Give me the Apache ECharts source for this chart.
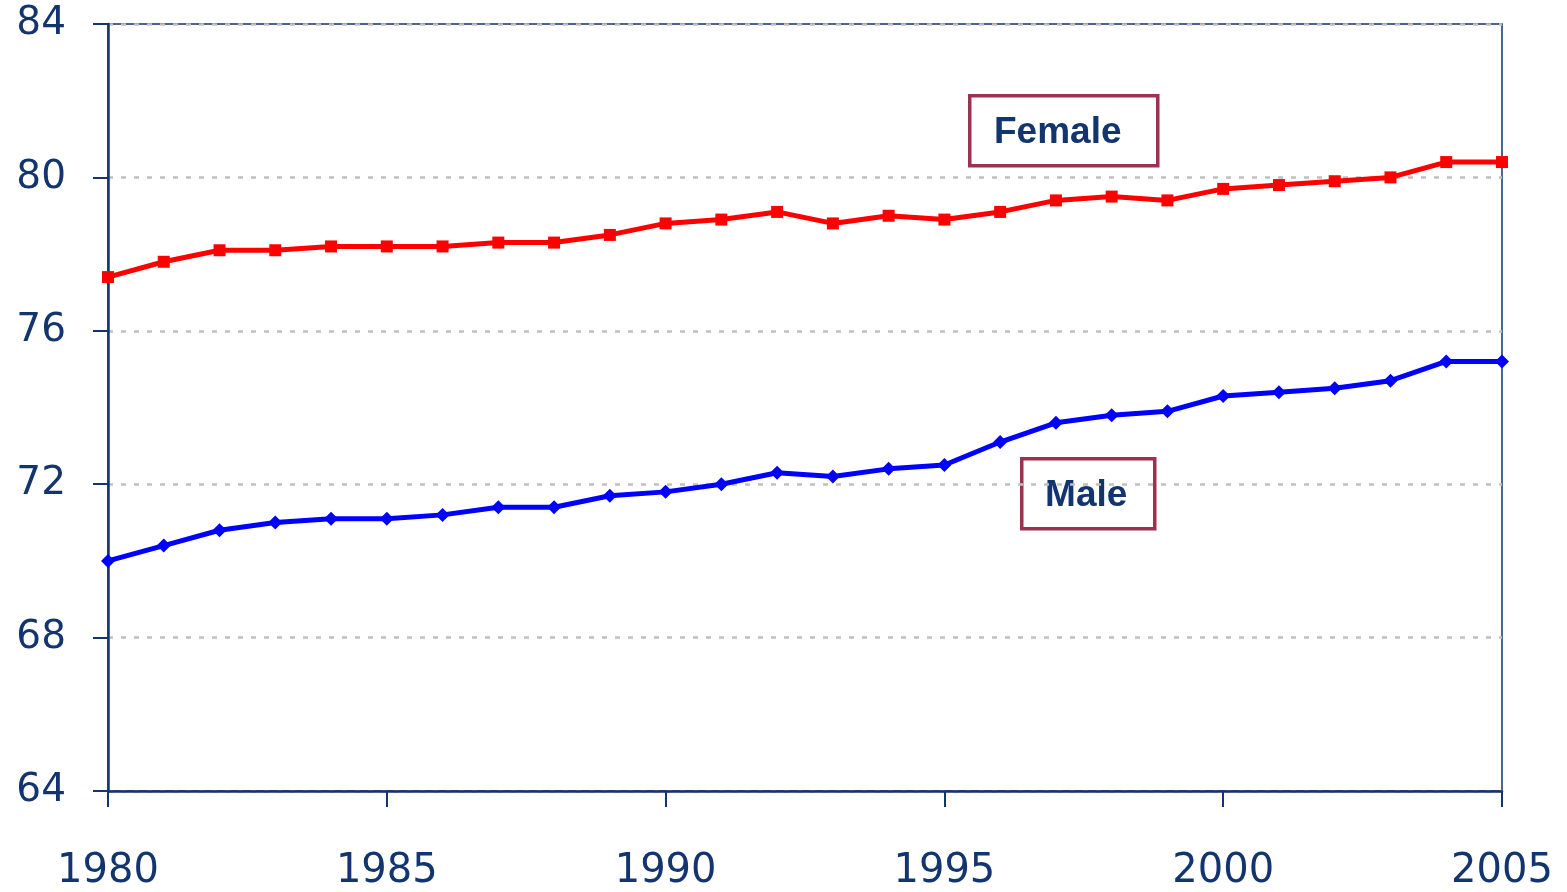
<!DOCTYPE html>
<html>
<head>
<meta charset="utf-8">
<script src="https://cdn.jsdelivr.net/npm/echarts@6/dist/echarts.min.js"></script>
<style>
  html, body { margin: 0; padding: 0; background: #fff; }
  #main { width: 1567px; height: 892px; }
</style>
</head>
<body>
<div id="main"></div>
<script>
var years = [1980, 1981, 1982, 1983, 1984, 1985, 1986, 1987, 1988, 1989, 1990, 1991, 1992,
  1993, 1994, 1995, 1996, 1997, 1998, 1999, 2000, 2001, 2002, 2003, 2004, 2005];
var female = [77.4, 77.8, 78.1, 78.1, 78.2, 78.2, 78.2, 78.3, 78.3, 78.5, 78.8, 78.9, 79.1,
  78.8, 79.0, 78.9, 79.1, 79.4, 79.5, 79.4, 79.7, 79.8, 79.9, 80.0, 80.4, 80.4];
var male = [70.0, 70.4, 70.8, 71.0, 71.1, 71.1, 71.2, 71.4, 71.4, 71.7, 71.8, 72.0, 72.3,
  72.2, 72.4, 72.5, 73.1, 73.6, 73.8, 73.9, 74.3, 74.4, 74.5, 74.7, 75.2, 75.2];

var navy = '#12346f';
var chartDom = document.getElementById('main');
var myChart = echarts.init(chartDom);
var option;

function boxLabel(text, x, y, w, h, dx) {
  return {
    type: 'group',
    left: x,
    top: y,
    children: [
      {
        type: 'rect',
        shape: { x: 0, y: 0, width: w, height: h },
        style: { fill: '#fff', stroke: '#993350', lineWidth: 3.5 }
      },
      {
        type: 'text',
        x: w / 2 + dx,
        y: h / 2 + 2,
        style: {
          text: text,
          fill: navy,
          fontSize: 37,
          fontWeight: 'bold',
          fontFamily: '"Liberation Sans", Arial, sans-serif',
          align: 'center',
          verticalAlign: 'middle'
        }
      }
    ]
  };
}

option = {
  animation: false,
  grid: {
    left: 108,
    right: 65,
    top: 24,
    bottom: 100,
    show: true,
    borderColor: navy,
    borderWidth: 1.5,
    backgroundColor: 'transparent'
  },
  xAxis: {
    type: 'value',
    min: 1980,
    max: 2005,
    interval: 5,
    axisLine: { lineStyle: { color: navy, width: 2.5 } },
    axisTick: { length: 16, lineStyle: { color: navy, width: 2 } },
    axisLabel: {
      color: navy,
      fontSize: 40,
      fontFamily: '"DejaVu Sans", Verdana, sans-serif',
      margin: 61,
      formatter: function (v) { return String(v); }
    },
    splitLine: { show: false }
  },
  yAxis: {
    type: 'value',
    min: 64,
    max: 84,
    interval: 4,
    axisLine: { show: true, lineStyle: { color: navy, width: 2.5 } },
    axisTick: { show: true, length: 15, lineStyle: { color: navy, width: 2 } },
    axisLabel: {
      color: navy,
      fontSize: 39,
      fontFamily: '"DejaVu Sans", Verdana, sans-serif',
      margin: 42
    },
    splitLine: {
      show: true,
      lineStyle: { color: '#c0c0c0', type: [5, 8], width: 2.5 }
    }
  },
  series: [
    {
      name: 'Female',
      type: 'line',
      data: years.map(function (y, i) { return [y, female[i]]; }),
      symbol: 'rect',
      symbolSize: 12,
      lineStyle: { color: '#ff0000', width: 5 },
      itemStyle: { color: '#ff0000' },
      z: 3
    },
    {
      name: 'Male',
      type: 'line',
      data: years.map(function (y, i) { return [y, male[i]]; }),
      symbol: 'diamond',
      symbolSize: 14,
      lineStyle: { color: '#0000ff', width: 5 },
      itemStyle: { color: '#0000ff' },
      z: 3
    }
  ],
  graphic: [
    boxLabel('Female', 968, 94, 188, 70, -6),
    boxLabel('Male', 1020, 457, 133, 70, -2)
  ]
};

option && myChart.setOption(option);

window.onresize = function () {
  myChart.resize();
};
</script>
</body>
</html>
